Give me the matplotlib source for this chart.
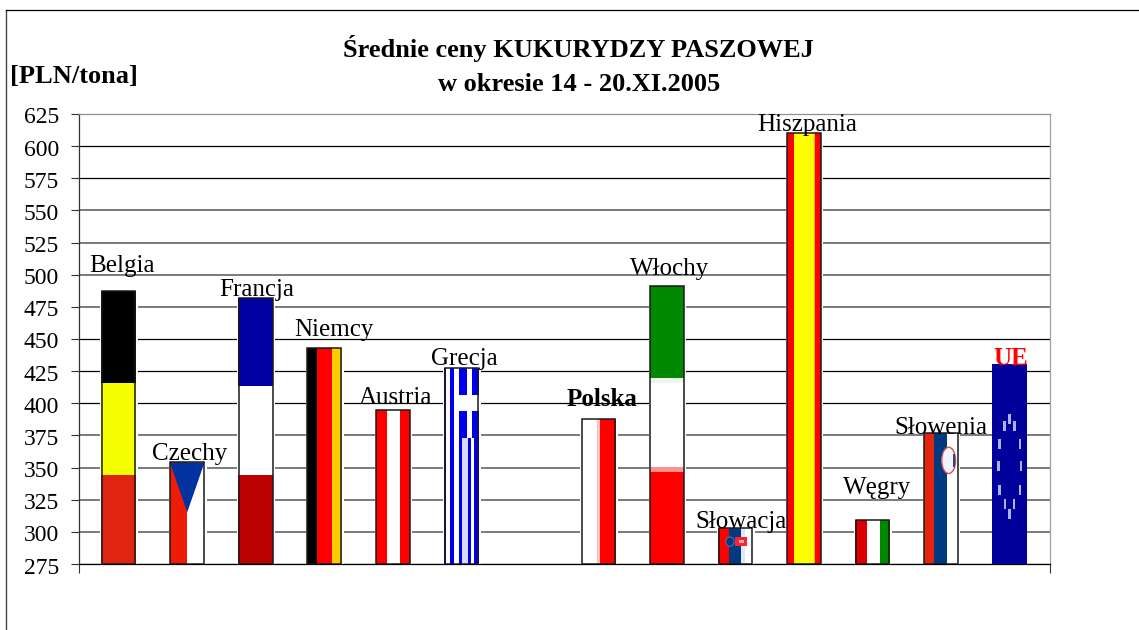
import matplotlib
matplotlib.use("Agg")
import matplotlib.pyplot as plt
from matplotlib.patches import Rectangle, Polygon, Ellipse
from matplotlib.lines import Line2D
from matplotlib.transforms import Affine2D, ScaledTranslation

plt.rcParams['font.family'] = ['Liberation Serif', 'DejaVu Serif']

# ---- data ----
countries = ["Belgia", "Czechy", "Francja", "Niemcy", "Austria", "Grecja", "",
             "Polska", "Włochy", "Słowacja", "Hiszpania", "Węgry", "Słowenia", "UE"]
prices = [487, 354, 482, 443, 395, 427.5, None,
          388, 491, 303, 610, 309, 377, 430.5]
y_ticks = list(range(275, 650, 25))
title_lines = ["Średnie ceny KUKURYDZY PASZOWEJ", "w okresie 14 - 20.XI.2005"]
unit_label = "[PLN/tona]"

# ---- styling ----
W, H = 1139, 630
BASE = 275
BAR_W = 0.505
dark_rows = {600, 575, 450, 425, 400, 275}
label_offsets = {"Belgia": (3.6, 19), "Czechy": (2.4, 2), "Francja": (0.5, 1.5), "Niemcy": (10, 11.5),
                 "Austria": (2.5, 6), "Grecja": (3, 3), "Polska": (3.4, 13), "Włochy": (3, 11.7),
                 "Słowacja": (6, 0), "Hiszpania": (3, 2), "Węgry": (5, 26), "Słowenia": (0, -1), "UE": (1.5, -1)}

# stripes: (start, end, colour) in the flag's own 0-1 space
vertical = {
    "Niemcy": [(0, .30, "#000000"), (.30, .73, "#ff0000"), (.73, 1, "#ffcc00")],
    "Austria": [(0, .33, "#ff0000"), (.33, .72, "#ffffff"), (.72, 1, "#ff0000")],
    "Polska": [(0, .47, "#ffffff"), (.47, .54, "#ffc0c0"), (.54, 1, "#ff0000")],
    "Hiszpania": [(0, .22, "#ff0000"), (.22, .80, "#ffff00"), (.80, .83, "#ffb000"), (.83, 1, "#ff0000")],
    "Węgry": [(0, .35, "#dd0000"), (.35, .71, "#ffffff"), (.71, 1, "#008800")],
    "Słowenia": [(0, .31, "#e4240f"), (.31, .67, "#003a80"), (.67, 1, "#ffffff")],
    "Słowacja": [(0, .31, "#ff0000"), (.31, .66, "#003a80"), (.66, .78, "#dfe8f5"), (.78, 1, "#ffffff")],
    "Grecja": [(0, .06, "#0000ee"), (.06, .17, "#ffffff"), (.17, .29, "#0000ee"), (.29, .42, "#ffffff"),
               (.42, .52, "#0000ee"), (.52, .70, "#d8d8ff"), (.70, .78, "#0000ee"), (.78, .88, "#ffffff"),
               (.88, 1, "#0000ee")],
}
horizontal = {
    "Belgia": [(0, .325, "#e0240f"), (.325, .665, "#f5ff00"), (.665, 1, "#000000")],
    "Francja": [(0, .335, "#bb0000"), (.335, .667, "#ffffff"), (.667, 1, "#0000a0")],
    "Włochy": [(0, .33, "#ff0000"), (.33, .35, "#ff9090"), (.35, .65, "#ffffff"), (.65, .67, "#eef6ee"), (.67, 1, "#008800")],
}
eu_stars = [(.50, .725), (.36, .69), (.64, .69), (.20, .60), (.80, .60), (.17, .49), (.83, .49),
            (.22, .37), (.80, .37), (.37, .30), (.63, .30), (.50, .25)]

fig = plt.figure(figsize=(W / 100, H / 100), dpi=100, facecolor="white")
ax = fig.add_axes([78.6 / W, 1 - 564 / H, (1050 - 78.6) / W, 450 / H])
ax.set_xlim(-0.585, 13.59)
ax.set_ylim(BASE, 625)
ax.set_axisbelow(True)

# axes furniture
ax.set_yticks(y_ticks)
ax.set_xticks(ax.get_xlim())
ax.set_xticklabels([])
ax.tick_params(axis="y", length=6, width=0.8, color="#333333", pad=8.0, labelsize=17)
ax.tick_params(axis="x", length=6.5, width=0.8, color="#333333")
shift = ScaledTranslation(0, -1.5 / 100, fig.dpi_scale_trans)
for lab in ax.get_yticklabels():
    lab.set_transform(lab.get_transform() + shift)
ax.grid(axis="y")
for v, line in zip(y_ticks, ax.yaxis.get_gridlines()):
    line.set_color("#000000" if v in dark_rows else "#707070")
    line.set_linewidth(0.9 if v in dark_rows else 1.3)
for side, col in (("left", "#333333"), ("bottom", "#000000"), ("top", "#909090"), ("right", "#a0a0a0")):
    ax.spines[side].set_color(col)
    ax.spines[side].set_linewidth(0.9)


def unit(x, value):
    """Map a flag's 0-1 space on to the bar at x with height value."""
    return Affine2D().scale(BAR_W, value - BASE).translate(x - BAR_W / 2, BASE) + ax.transData


def add(patch, tr, z=3):
    patch.set_transform(tr)
    patch.set_zorder(z)
    ax.add_patch(patch)


for i, (name, value) in enumerate(zip(countries, prices)):
    if value is None:
        continue
    tr = unit(i, value)
    if name != "UE":
        ax.bar(i, value - BASE, BAR_W, bottom=BASE, color="white", edgecolor="white", linewidth=2.2, zorder=2)
    for a, b, c in vertical.get(name, []):
        ax.bar(i - BAR_W / 2 + a * BAR_W, value - BASE, (b - a) * BAR_W, bottom=BASE, align="edge", color=c, linewidth=0, zorder=3)
    for a, b, c in horizontal.get(name, []):
        ax.bar(i, (b - a) * (value - BASE), BAR_W, bottom=BASE + a * (value - BASE), color=c, linewidth=0, zorder=3)
    if name == "Czechy":
        add(Rectangle((0, 0), .5, 1, fc="#ee1c06", lw=0), tr)
        add(Rectangle((.5, 0), .5, 1, fc="#ffffff", lw=0), tr)
        add(Polygon([(0, 1), (1, 1), (.5, .51)], fc="#0033a0", lw=0), tr, 4)
    elif name == "Grecja":
        add(Rectangle((.42, .643), .58, .357, fc="#0000ee", lw=0), tr, 4)
        add(Rectangle((.65, .643), .16, .357, fc="#ffffff", lw=0), tr, 4)
        add(Rectangle((.42, .782), .58, .08, fc="#ffffff", lw=0), tr, 5)
    elif name == "Słowacja":
        add(Rectangle((.50, .50), .32, .25, fc="#ff2030", lw=0), tr, 4)
        add(Ellipse((.34, .62), .24, .26, fc="#003a80", ec="#6080c0", lw=.6), tr, 4)
        add(Rectangle((.60, .58), .14, .08, fc="#ffb0b0", lw=0), tr, 5)
    elif name == "Słowenia":
        add(Ellipse((.72, .79), .40, .20, fc="#f4f4f8", ec="#d05060", lw=1), tr, 4)
        add(Rectangle((.86, .74), .05, .10, fc="#204a90", lw=0), tr, 5)
    elif name == "UE":
        ax.bar(i, value - BASE, BAR_W, bottom=BASE, color="#00009a", linewidth=0, zorder=3)
        for sx, sy in eu_stars:
            add(Rectangle((sx - .04, sy - .024), .08, .048, fc="#b0b0f4", lw=0), tr, 4)
    if name != "UE":
        ax.bar(i, value - BASE, BAR_W * .97, bottom=BASE, fill=False, edgecolor="#1a1a1a", linewidth=1.1, zorder=6)
    dx, dy = label_offsets[name]
    ax.annotate(name, xy=(i, value), xytext=(dx, dy), textcoords="offset pixels",
                ha="center", va="baseline", fontsize=18, zorder=8,
                color="#ff0000" if name == "UE" else "#000000",
                fontweight="bold" if name in ("Polska", "UE") else "normal")

# headings
fig.text(578.5 / W, 1 - 57 / H, title_lines[0], ha="center", va="baseline", fontsize=19, fontweight="bold")
fig.text(579.5 / W, 1 - 91 / H, title_lines[1], ha="center", va="baseline", fontsize=19, fontweight="bold")
fig.text(10 / W, 1 - 83 / H, unit_label, ha="left", va="baseline", fontsize=19, fontweight="bold")

# outer frame: only its left and top edges fall inside the picture
fig.add_artist(Line2D([6 / W, 6 / W], [0, 1 - 9.5 / H], color="#444444", lw=1, transform=fig.transFigure))
fig.add_artist(Line2D([6 / W, 1], [1 - 9.5 / H, 1 - 9.5 / H], color="#000000", lw=0.9, transform=fig.transFigure))

fig.savefig("out.png", dpi=100)
